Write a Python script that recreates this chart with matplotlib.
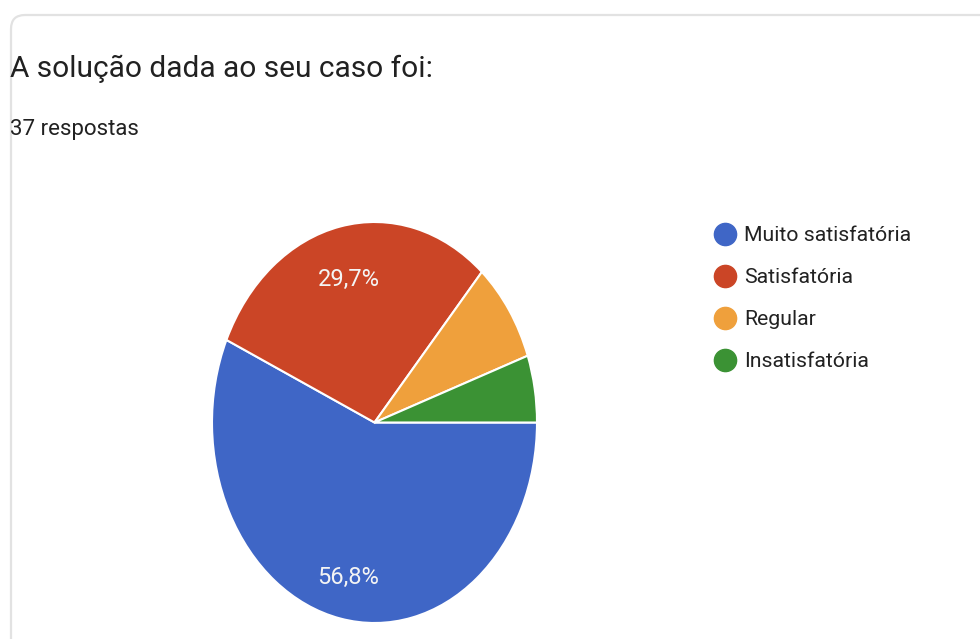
import matplotlib.pyplot as plt
from matplotlib.lines import Line2D
from matplotlib.patches import FancyBboxPatch
from matplotlib.transforms import IdentityTransform, offset_copy

plt.rcParams["font.family"] = ["Roboto", "DejaVu Sans"]

title = "A solução dada ao seu caso foi:"
subtitle = "37 respostas"
labels = ["Muito satisfatória", "Satisfatória", "Regular", "Insatisfatória"]
counts = [21, 11, 3, 2]
colors = ["#3f66c6", "#cb4526", "#efa03c", "#3b9234"]

W, H = 980, 639
fig = plt.figure(figsize=(W / 100, H / 100), dpi=100)
fig.patch.set_facecolor("white")

# card border (pixel coords, runs off the right and bottom edge)
card = FancyBboxPatch((11, -40), 1100, H - 15 + 40,
                      boxstyle="round,pad=0,rounding_size=14",
                      transform=IdentityTransform(), facecolor="none",
                      edgecolor="#e2e2e2", linewidth=1.6)
fig.patches.append(card)

fig.text(10 / W, 1 - 77 / H, title, fontsize=21.5, color="#212121",
         va="baseline", ha="left")
fig.text(10 / W, 1 - 135 / H, subtitle, fontsize=16, color="#212121",
         va="baseline", ha="left")


def pct_label(pct):
    if pct < 10:
        return ""
    return f"{pct:.1f}%".replace(".", ",")


# pie is stretched vertically like the screenshot
ax = fig.add_axes([212 / W, 1 - 623 / H, 325 / W, 401 / H])
wedges, texts, autotexts = ax.pie(
    counts, colors=colors, startangle=0, counterclock=False,
    autopct=pct_label, pctdistance=0.76,
    wedgeprops=dict(edgecolor="white", linewidth=1.5),
    textprops=dict(color="#f4f4f4", fontsize=17),
)
for t in autotexts:
    t.set_transform(offset_copy(ax.transData, fig=fig, x=0, y=-6,
                                units="dots"))
ax.set_aspect("auto")
ax.set_xlim(-1, 1)
ax.set_ylim(-1, 1)
ax.axis("off")

handles = [Line2D([], [], linestyle="none", marker="o", markersize=16,
                  markerfacecolor=c, markeredgecolor=c) for c in colors]
fig.legend(handles, labels, loc="upper left",
           bbox_to_anchor=(693 / W, 1 - 207 / H), frameon=False,
           fontsize=15.3, labelspacing=1.08, handletextpad=0.3,
           handlelength=1.2, labelcolor="#222222")

fig.savefig("out.png", dpi=100)
